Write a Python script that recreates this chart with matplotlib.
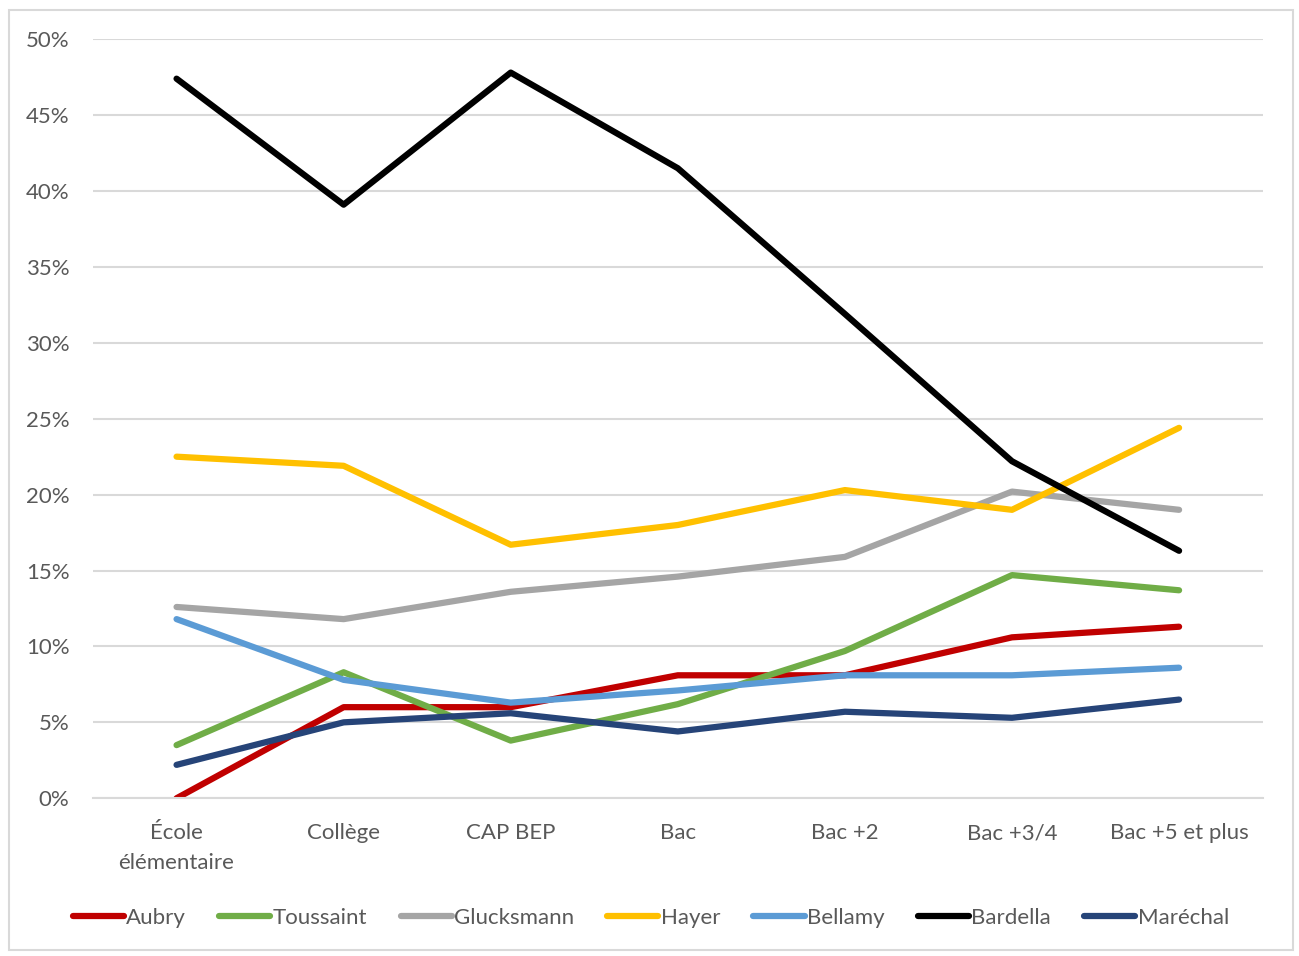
import matplotlib.pyplot as plt
from matplotlib.patches import Rectangle
from matplotlib.ticker import PercentFormatter

categories = ["École\nélémentaire", "Collège", "CAP BEP", "Bac", "Bac +2", "Bac +3/4", "Bac +5 et plus"]
aubry = [0.0, 6.0, 6.0, 8.1, 8.1, 10.6, 11.3]
toussaint = [3.5, 8.3, 3.8, 6.2, 9.7, 14.7, 13.7]
glucksmann = [12.6, 11.8, 13.6, 14.6, 15.9, 20.2, 19.0]
hayer = [22.5, 21.9, 16.7, 18.0, 20.3, 19.0, 24.4]
bellamy = [11.8, 7.8, 6.3, 7.1, 8.1, 8.1, 8.6]
bardella = [47.4, 39.1, 47.8, 41.5, 31.9, 22.2, 16.3]
marechal = [2.2, 5.0, 5.6, 4.4, 5.7, 5.3, 6.5]

series = [
    ("Aubry", aubry, "#C00000"),
    ("Toussaint", toussaint, "#70AD47"),
    ("Glucksmann", glucksmann, "#A5A5A5"),
    ("Hayer", hayer, "#FFC000"),
    ("Bellamy", bellamy, "#5B9BD5"),
    ("Bardella", bardella, "#000000"),
    ("Maréchal", marechal, "#264478"),
]

plt.rcParams["font.family"] = ["Lato", "DejaVu Sans"]
fig = plt.figure(figsize=(12.99, 9.56), dpi=100)
fig.patches.append(Rectangle((0.007, 0.006), 0.988, 0.984, transform=fig.transFigure,
                             fill=False, edgecolor="#D9D9D9", linewidth=1.5))
ax = fig.add_axes([0.0716, 0.165, 0.9004, 0.794])

x = range(len(categories))
for name, vals, col in series:
    ax.plot(x, vals, color=col, linewidth=4.5, label=name, solid_capstyle="round")

ax.set_xlim(-0.5, len(categories) - 0.5)
ax.set_ylim(0, 50)
ax.set_yticks(range(0, 51, 5))
ax.yaxis.set_major_formatter(PercentFormatter(decimals=0))
ax.set_xticks(list(x))
ax.set_xticklabels(categories, linespacing=1.6)
ax.grid(axis="y", color="#D9D9D9", linewidth=1.5)
ax.set_axisbelow(True)
for s in ["top", "right", "left"]:
    ax.spines[s].set_visible(False)
ax.spines["bottom"].set_color("#D9D9D9")
ax.spines["bottom"].set_linewidth(1.5)
ax.tick_params(length=0, labelsize=16, labelcolor="#595959")
ax.tick_params(axis="y", pad=17)
ax.tick_params(axis="x", pad=18)

fig.legend(loc="center", bbox_to_anchor=(0.501, 0.04), ncol=7, frameon=False,
           fontsize=16, labelcolor="#595959", handlelength=2.3, handletextpad=0.1,
           columnspacing=1.5)

fig.savefig("out.png", dpi=100)
